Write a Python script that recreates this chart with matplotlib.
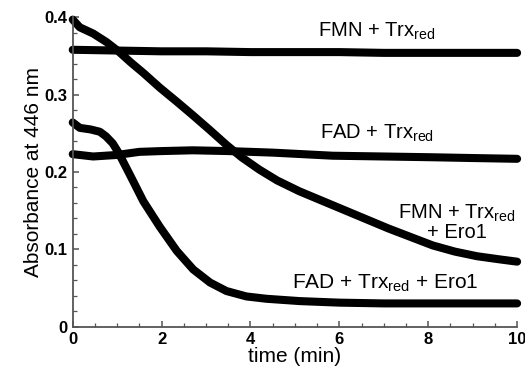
import matplotlib
matplotlib.use("Agg")
import matplotlib.pyplot as plt
from matplotlib.ticker import MultipleLocator

plt.rcParams['font.family'] = ['Liberation Sans', 'DejaVu Sans']
plt.rcParams['mathtext.fontset'] = 'custom'
plt.rcParams['mathtext.rm'] = 'Liberation Sans'
plt.rcParams['mathtext.it'] = 'Liberation Sans'

# FMN + Trx(red)
fmn_t = [0, 1, 2, 3, 4, 5, 6, 7, 8, 9, 10]
fmn_a = [0.358, 0.357, 0.356, 0.356, 0.355, 0.355, 0.355, 0.354, 0.354, 0.354, 0.354]

# FAD + Trx(red)
fad_t = [0, 0.46, 1.0, 1.5, 2.0, 2.7, 3.5, 4.5, 5.85, 7.0, 8.1, 9.0, 10]
fad_a = [0.223, 0.220, 0.222, 0.226, 0.227, 0.228, 0.227, 0.225, 0.221, 0.220, 0.219, 0.218, 0.217]

# FMN + Trx(red) + Ero1
fmn_ero_t = [0, 0.16, 0.46, 0.76, 1.03, 1.3, 1.59, 1.96, 2.34, 2.71, 3.09, 3.46, 3.8,
             4.2, 4.6, 5.1, 5.6, 6.1, 6.6, 7.1, 7.6, 8.1, 8.6, 9.1, 9.6, 10]
fmn_ero_a = [0.397, 0.387, 0.379, 0.368, 0.356, 0.342, 0.328, 0.309, 0.291, 0.273, 0.254,
             0.235, 0.219, 0.203, 0.189, 0.175, 0.163, 0.151, 0.139, 0.127, 0.116, 0.105,
             0.097, 0.091, 0.087, 0.084]

# FAD + Trx(red) + Ero1
fad_ero_t = [0, 0.16, 0.40, 0.61, 0.75, 0.9, 1.03, 1.29, 1.59, 1.96, 2.34, 2.71, 3.09,
             3.46, 3.91, 4.36, 5.11, 6.0, 7.0, 8.0, 9.0, 10]
fad_ero_a = [0.264, 0.257, 0.255, 0.252, 0.246, 0.237, 0.225, 0.196, 0.162, 0.129, 0.098,
             0.074, 0.057, 0.046, 0.039, 0.036, 0.033, 0.031, 0.030, 0.030, 0.030, 0.030]

fig = plt.figure(figsize=(5.25, 3.72), dpi=100)
ax = fig.add_axes([0.1385, 0.122, 0.8465, 0.8315])

for t, a in [(fmn_t, fmn_a), (fad_t, fad_a), (fmn_ero_t, fmn_ero_a), (fad_ero_t, fad_ero_a)]:
    ax.plot(t, a, color='black', lw=5.8, solid_capstyle='round', solid_joinstyle='round',
            clip_on=False)

ax.set_xlim(0, 10)
ax.set_ylim(0, 0.4)
ax.xaxis.set_minor_locator(MultipleLocator(0.5))
ax.yaxis.set_minor_locator(MultipleLocator(0.02))
ax.set_xticks([0, 2, 4, 6, 8, 10])
ax.set_xticklabels(['0', '2', '4', '6', '8', '10'], fontweight='bold', fontsize=12)
ax.set_yticks([0, 0.1, 0.2, 0.3, 0.4])
ax.set_yticklabels(['0', '0.1', '0.2', '0.3', '0.4'], fontweight='bold', fontsize=12)

for s in ['top', 'right']:
    ax.spines[s].set_visible(False)
for s in ['left', 'bottom']:
    ax.spines[s].set_color('#555555')
    ax.spines[s].set_linewidth(1.3)
ax.tick_params(which='major', direction='in', length=4.5, width=1.1, color='#555555')
ax.tick_params(axis='x', which='major', pad=4)
ax.tick_params(axis='y', which='major', pad=4)
ax.tick_params(which='minor', direction='in', length=3, width=0.9, color='#555555')

ax.set_xlabel('time (min)', fontsize=15, labelpad=0)
ax.set_ylabel('Absorbance at 446 nm', fontsize=15, labelpad=1)

lbl = dict(fontsize=14.5, ha='center', va='center')
ax.text(6.85, 0.382, r'FMN + Trx$_{\mathrm{red}}$', **lbl)
ax.text(6.85, 0.250, r'FAD + Trx$_{\mathrm{red}}$', **lbl)
ax.text(8.64, 0.135, 'FMN + Trx$_{\\mathrm{red}}$\n+ Ero1', linespacing=0.9, **lbl)
ax.text(7.03, 0.056, r'FAD + Trx$_{\mathrm{red}}$ + Ero1', fontsize=15, ha='center', va='center')

fig.savefig('out.png', dpi=100)
